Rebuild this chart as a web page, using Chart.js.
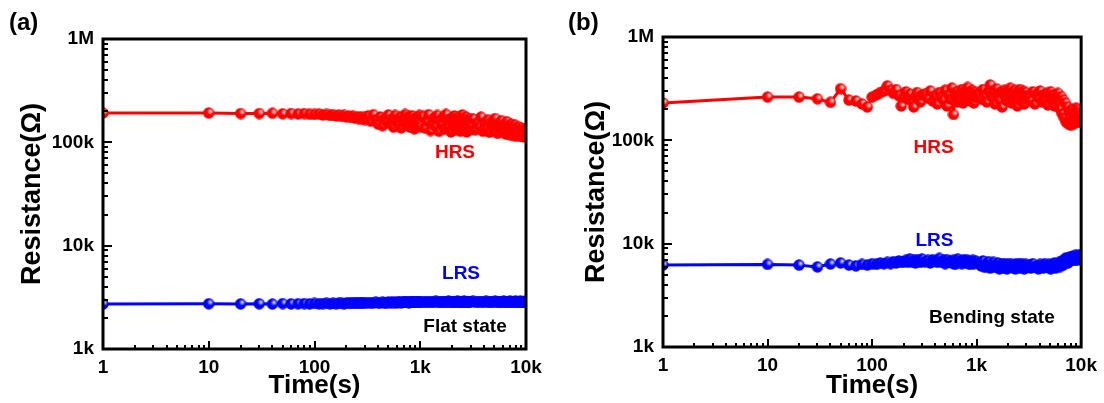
<!DOCTYPE html>
<html><head><meta charset="utf-8">
<script src="https://cdn.jsdelivr.net/npm/chart.js@4.4.1/dist/chart.umd.min.js"></script>
<style>
html,body{margin:0;padding:0;background:#fff;}
#wrap{position:relative;width:1104px;height:403px;overflow:hidden;background:#fff;}
.panel{position:absolute;top:0;width:552px;height:403px;}
</style></head><body>
<div id="wrap">
<div class="panel" style="left:0"><canvas id="ca" width="552" height="403"></canvas></div>
<div class="panel" style="left:552px"><canvas id="cb" width="552" height="403"></canvas></div>
</div>
<script>
// Time (s)
const TIME = [1,10,20,30,40,50,60,70,80,90,100,
  110,120,130,140,150,160,170,180,190,200,210,220,230,240,250,260,270,280,290,300,
  320,340,360,380,400,420,440,460,480,500,520,540,560,580,600,620,640,660,680,700,720,740,760,780,800,820,840,860,880,900,920,940,960,980,1000,
  1050,1100,1150,1200,1250,1300,1350,1400,1450,1500,1550,1600,1650,1700,1750,1800,1850,1900,1950,2000,
  2050,2100,2150,2200,2250,2300,2350,2400,2450,2500,2550,2600,2650,2700,2750,2800,2850,2900,2950,3000,
  3150,3300,3450,3600,3750,3900,4050,4200,4350,4500,4650,4800,4950,5100,5250,5400,5550,5700,5850,6000,
  6150,6300,6450,6600,6750,6900,7050,7200,7350,7500,7650,7800,7950,8100,8250,8400,8550,8700,8850,9000,
  9150,9300,9450,9600,9750,9900,10000];

// Resistance in kΩ — (a) flat state
const HRS_FLAT = [192,192,190,190,191,189,190,188,190,187,186,
  188,184,186,182,185,180,183,178,182,176,180,174,179,172,177,170,176,168,174,166,
  180,160,185,165,150,176,145,170,158,184,152,168,140,182,160,148,175,138,166,155,186,146,162,178,140,158,180,150,135,172,145,165,155,182,142,
  178,138,160,185,130,152,172,142,182,128,158,146,176,134,186,150,140,168,126,160,
  145,180,132,155,174,138,165,128,150,184,136,158,142,176,126,152,140,170,132,148,
  168,132,155,142,175,128,150,136,165,125,148,160,130,170,140,122,152,134,162,128,
  146,138,120,158,130,144,118,150,126,140,116,148,124,136,115,142,120,132,116,138,
  114,126,118,134,112,122,135];
const LRS_FLAT = [2.72,2.74,2.73,2.74,2.72,2.75,2.73,2.74,2.75,2.73,2.76,
  2.74,2.75,2.77,2.74,2.76,2.75,2.77,2.76,2.75,2.78,2.77,2.79,2.76,2.8,2.78,2.77,2.81,2.79,2.78,2.8,
  2.79,2.81,2.78,2.82,2.8,2.79,2.83,2.78,2.81,2.84,2.8,2.82,2.79,2.85,2.81,2.83,2.86,2.8,2.84,2.82,2.87,2.83,2.86,2.81,2.85,2.88,2.82,2.86,2.84,2.87,2.83,2.85,2.88,2.84,2.86,
  2.82,2.88,2.85,2.83,2.87,2.84,2.86,2.89,2.83,2.85,2.86,2.83,2.88,2.85,2.87,2.84,2.89,2.86,2.83,2.87,
  2.85,2.88,2.84,2.86,2.9,2.85,2.87,2.83,2.88,2.86,2.84,2.89,2.85,2.87,2.86,2.84,2.88,2.85,2.87,2.86,
  2.89,2.84,2.87,2.85,2.88,2.86,2.84,2.89,2.86,2.83,2.88,2.85,2.87,2.9,2.84,2.86,2.88,2.85,2.87,2.83,
  2.89,2.86,2.84,2.88,2.85,2.87,2.9,2.86,2.84,2.88,2.85,2.87,2.89,2.84,2.86,2.88,2.85,2.87,2.9,2.86,
  2.84,2.88,2.86,2.87,2.85,2.89,2.87];

// (b) bending state
const HRS_BEND = [230,262,262,252,233,316,245,240,225,210,262,
  275,290,300,336,305,285,310,270,215,262,294,250,280,240,210,265,290,255,235,275,
  280,255,300,240,270,225,290,260,245,305,215,275,250,320,178,265,295,235,280,250,310,230,270,300,245,325,260,285,240,305,270,230,295,260,280,
  285,250,310,270,235,300,343,260,290,225,315,270,245,295,210,280,305,255,240,300,
  270,320,230,285,260,305,245,275,215,295,265,310,240,280,255,300,225,290,270,250,
  270,240,295,225,280,255,300,235,275,250,285,220,265,295,240,275,215,260,245,285,
  230,200,265,180,245,165,230,150,210,145,185,160,140,200,155,175,145,190,160,205,
  170,195,150,185,165,176,150];
const LRS_BEND = [6.2,6.3,6.2,5.96,6.35,6.5,6.2,6.1,6.3,6.2,6.4,
  6.3,6.5,6.4,6.6,6.4,6.7,6.5,6.8,6.6,6.7,6.9,6.6,7.1,6.7,6.9,6.5,7.0,6.8,6.6,7.1,
  6.7,6.9,6.5,7.0,6.8,6.6,7.2,6.7,6.9,6.4,7.0,6.6,6.8,6.5,6.9,6.3,6.7,7.1,6.6,6.8,6.4,6.9,6.7,6.5,7.0,6.6,6.8,6.3,6.7,6.5,6.9,6.4,6.6,6.8,6.5,
  6.5,6.1,6.8,5.9,6.4,6.7,5.8,6.3,6.6,5.9,6.2,6.5,5.7,6.1,6.4,5.8,6.3,6.0,5.7,6.4,
  6.1,5.9,6.3,6.0,5.8,6.2,5.7,6.4,6.0,5.9,6.3,5.8,6.1,6.4,5.9,6.2,5.7,6.0,6.3,5.9,
  6.2,5.8,6.4,5.9,6.1,5.7,6.3,6.0,5.8,6.4,6.1,5.9,6.3,5.7,6.2,6.0,6.5,5.8,6.3,6.1,
  6.6,6.0,6.4,6.8,6.2,7.0,6.6,7.3,6.9,6.5,7.2,6.8,7.5,7.1,6.9,7.6,7.2,7.0,7.7,7.3,
  6.9,7.5,7.1,7.8,7.3,7.6,7.4];

const X_TICKS = [1,10,100,1000,10000];
const X_TICK_LABELS = ['1','10','100','1k','10k'];
const Y_TICKS = [1,10,100,1000];
const Y_TICK_LABELS = ['1k','10k','100k','1M'];

const RED = '#ff0000', BLUE = '#0000ff';
const FONT = '"Liberation Sans", Arial, Helvetica, sans-serif';

const ANNOT_A = [
  {text:'HRS', t:2130, r:79, color:RED},
  {text:'LRS', t:2430, r:5.4, color:BLUE},
  {text:'Flat state', t:2650, r:1.63, color:'#000'}
];
const ANNOT_B = [
  {text:'HRS', t:387, r:84, color:RED},
  {text:'LRS', t:395, r:10.6, color:BLUE},
  {text:'Bending state', t:1400, r:1.9, color:'#000'}
];

function makeBall(color){
  const c = document.createElement('canvas'); c.width = 12; c.height = 12;
  const g = c.getContext('2d');
  g.beginPath(); g.arc(6,6,5.7,0,Math.PI*2); g.fillStyle = color; g.fill();
  const rg = g.createRadialGradient(7.6,4.4,0,7.6,4.4,3.4);
  rg.addColorStop(0,'rgba(255,255,255,0.95)');
  rg.addColorStop(0.5,'rgba(255,255,255,0.45)');
  rg.addColorStop(1,'rgba(255,255,255,0)');
  g.fillStyle = rg; g.beginPath(); g.arc(6,6,5.7,0,Math.PI*2); g.fill();
  return c;
}

function decoPlugin(letter, letterX, annots){
  return {
    id:'deco',
    afterDatasetsDraw(chart){
      const {ctx, chartArea:a, scales:{x, y}} = chart;
      ctx.save();
      ctx.strokeStyle = '#000';
      ctx.lineWidth = 2;
      ctx.beginPath();
      for (let d = 1; d <= 10000; d *= 10){
        for (let m = 1; m < 10; m++){
          const v = d*m; if (v > 10000) break;
          const px = Math.round(x.getPixelForValue(v));
          const len = m === 1 ? 8 : 4;
          ctx.moveTo(px, a.bottom); ctx.lineTo(px, a.bottom - len);
        }
      }
      for (let d = 1; d <= 1000; d *= 10){
        for (let m = 1; m < 10; m++){
          const v = d*m; if (v > 1000) break;
          const py = Math.round(y.getPixelForValue(v));
          const len = m === 1 ? 9 : 5;
          ctx.moveTo(a.left, py); ctx.lineTo(a.left + len, py);
        }
      }
      ctx.stroke();
      ctx.lineWidth = 3;
      ctx.strokeRect(a.left, a.top, a.right - a.left, a.bottom - a.top);
      ctx.font = 'bold 19px ' + FONT;
      ctx.textAlign = 'center'; ctx.textBaseline = 'middle';
      annots.forEach(an => {
        ctx.fillStyle = an.color;
        ctx.fillText(an.text, x.getPixelForValue(an.t), y.getPixelForValue(an.r));
      });
      ctx.fillStyle = '#000';
      ctx.font = 'bold 24px ' + FONT;
      ctx.textAlign = 'left';
      ctx.fillText(letter, letterX, 23);
      ctx.restore();
    }
  };
}

function makeChart(id, hrs, lrs, o){
  const ballR = makeBall(RED), ballB = makeBall(BLUE);
  const ds = (vals, color, ball) => ({
    data: TIME.map((t,i) => ({x:t, y:vals[i]})),
    borderColor: color, backgroundColor: color, borderWidth: 3,
    borderJoinStyle: 'round', borderCapStyle: 'round',
    pointStyle: ball, pointRadius: 6, pointHoverRadius: 6, tension: 0, clip: 0
  });
  return new Chart(document.getElementById(id), {
    type:'line',
    data:{datasets:[ds(hrs, RED, ballR), ds(lrs, BLUE, ballB)]},
    options:{
      responsive:false, animation:false, devicePixelRatio:1,
      events:[],
      layout:{padding:{top:o.top, right:o.right, left:0, bottom:0}},
      plugins:{legend:{display:false}, tooltip:{enabled:false}},
      scales:{
        x:{
          type:'logarithmic', min:1, max:10000,
          grid:{display:false, drawTicks:false}, border:{display:false},
          afterBuildTicks: s => { s.ticks = X_TICKS.map(v => ({value:v})); },
          afterFit: s => { s.height = o.xh; },
          ticks:{color:'#000', padding:7, autoSkip:false, maxRotation:0,
            font:{family:FONT, size:19, weight:'bold'},
            callback:(v,i) => X_TICK_LABELS[i]},
          title:{display:true, text:'Time(s)', color:'#000',
            font:{family:FONT, size:26, weight:'bold'}, padding:{top:0,bottom:2}}
        },
        y:{
          type:'logarithmic', min:1, max:1000,
          grid:{display:false, drawTicks:false}, border:{display:false},
          afterBuildTicks: s => { s.ticks = Y_TICKS.map(v => ({value:v})); },
          afterFit: s => { s.width = o.yw; },
          ticks:{color:'#000', padding:9, autoSkip:false,
            font:{family:FONT, size:19, weight:'bold'},
            callback:(v,i) => Y_TICK_LABELS[i]},
          title:{display:true, text:'Resistance(Ω)', color:'#000',
            font:{family:FONT, size:27, weight:'bold'}, padding:{top:o.ytp, bottom:0}}
        }
      }
    },
    plugins:[decoPlugin(o.letter, o.lx, o.annots)]
  });
}

makeChart('ca', HRS_FLAT, LRS_FLAT, {top:39, right:26, yw:103, xh:54, ytp:16, letter:'(a)', lx:9, annots:ANNOT_A});
makeChart('cb', HRS_BEND, LRS_BEND, {top:37, right:19, yw:111, xh:56, ytp:28, letter:'(b)', lx:16, annots:ANNOT_B});
</script>
</body></html>
